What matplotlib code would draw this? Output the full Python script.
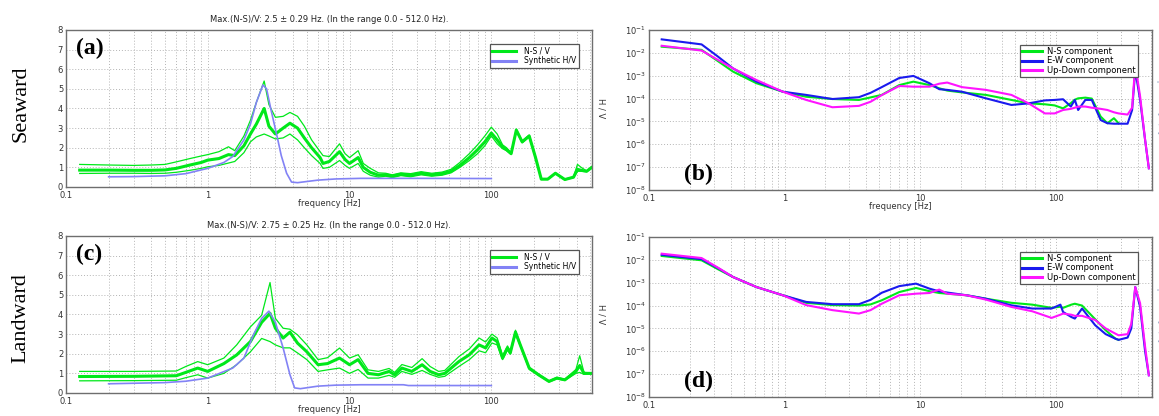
import numpy as np
import matplotlib
matplotlib.use('Agg')
import matplotlib.pyplot as plt
from matplotlib.ticker import LogLocator, NullFormatter, FixedLocator, FixedFormatter


# --- H/V curves, seaward site (a): mean and mean +/- 1 sd ---
freq_a  = [0.125, 0.2, 0.3, 0.4, 0.5, 0.6, 0.75, 0.9, 1.0, 1.2, 1.4, 1.55, 1.8, 2.0, 2.2, 2.5, 2.7,
           3.0, 3.4, 3.8, 4.3, 4.8, 5.4, 6.2, 6.5, 7.2, 8.5, 9.3, 10, 11.5, 12.5, 14, 16, 18, 20,
           23, 27, 32, 38, 45, 52, 60, 70, 80, 90, 100, 110, 120, 128, 138, 150, 165, 185, 205,
           225, 250, 283, 330, 380, 405, 430, 470, 512]
hv_a    = [0.86, 0.86, 0.85, 0.85, 0.87, 0.95, 1.12, 1.25, 1.37, 1.45, 1.65, 1.60, 2.1, 2.7, 3.2,
           4.0, 3.1, 2.7, 3.0, 3.25, 3.0, 2.5, 2.0, 1.5, 1.2, 1.3, 1.8, 1.4, 1.2, 1.5, 1.0, 0.75,
           0.6, 0.62, 0.55, 0.65, 0.6, 0.7, 0.62, 0.68, 0.8, 1.1, 1.5, 1.9, 2.3, 2.75, 2.4, 2.05,
           1.9, 1.7, 2.9, 2.3, 2.6, 1.5, 0.4, 0.4, 0.7, 0.38, 0.5, 0.9, 0.85, 0.8, 1.0]
hv_a_hi = [1.15, 1.12, 1.10, 1.12, 1.15, 1.28, 1.45, 1.58, 1.65, 1.80, 2.05, 1.85, 2.6, 3.4, 4.3,
           5.4, 4.2, 3.55, 3.6, 3.8, 3.6, 3.1, 2.4, 1.8, 1.6, 1.55, 2.2, 1.7, 1.5, 1.85, 1.2, 0.95,
           0.72, 0.7, 0.62, 0.72, 0.68, 0.78, 0.7, 0.76, 0.9, 1.25, 1.7, 2.15, 2.6, 3.05, 2.7, 2.15,
           2.0, 1.75, 2.95, 2.35, 2.65, 1.55, 0.42, 0.42, 0.72, 0.4, 0.52, 1.15, 1.0, 0.82, 1.02]
hv_a_lo = [0.69, 0.70, 0.70, 0.69, 0.70, 0.75, 0.85, 0.95, 1.03, 1.10, 1.22, 1.30, 1.75, 2.3, 2.55,
           2.7, 2.6, 2.45, 2.5, 2.7, 2.4, 2.0, 1.6, 1.2, 0.95, 1.0, 1.35, 1.1, 0.95, 1.2, 0.8, 0.6,
           0.5, 0.55, 0.48, 0.58, 0.52, 0.62, 0.55, 0.6, 0.72, 1.0, 1.35, 1.7, 2.1, 2.6, 2.2, 1.95,
           1.85, 1.65, 2.85, 2.25, 2.55, 1.45, 0.38, 0.38, 0.68, 0.36, 0.48, 0.8, 0.8, 0.78, 0.98]
syn_fa  = [0.2, 0.3, 0.5, 0.7, 1.0, 1.3, 1.5, 1.8, 2.0, 2.2, 2.45, 2.6, 2.8, 3.1, 3.3, 3.6, 3.9,
           4.3, 5, 6, 8, 12, 30, 100]
syn_a   = [0.52, 0.53, 0.57, 0.68, 0.95, 1.25, 1.55, 2.4, 3.2, 4.3, 5.2, 5.0, 3.9, 2.5, 1.6, 0.7,
           0.25, 0.22, 0.28, 0.35, 0.41, 0.44, 0.44, 0.43]

# --- H/V curves, landward site (c) ---
freq_c  = [0.125, 0.3, 0.6, 0.7, 0.85, 1.0, 1.3, 1.6, 2.0, 2.4, 2.75, 3.0, 3.4, 3.8, 4.3, 5.0,
           6.0, 7.0, 8.5, 10, 11.5, 13.5, 16, 19, 20.8, 23.4, 27.5, 32.5, 37, 42.5, 47, 59, 70,
           82, 91, 101, 110, 120, 130, 136, 148, 160, 185, 215, 255, 290, 330, 395, 420, 450, 512]
hv_c    = [0.84, 0.85, 0.88, 1.05, 1.27, 1.1, 1.5, 1.94, 2.62, 3.6, 4.06, 3.3, 2.8, 3.1, 2.54, 2.1,
           1.44, 1.5, 1.78, 1.44, 1.7, 1.0, 0.93, 1.1, 0.93, 1.27, 1.1, 1.44, 1.1, 0.93, 1.0, 1.6,
           1.95, 2.45, 2.3, 2.8, 2.62, 1.78, 2.3, 2.04, 3.1, 2.45, 1.27, 0.93, 0.59, 0.76, 0.67,
           1.1, 1.4, 1.0, 1.0]
hv_c_hi = [1.1, 1.1, 1.12, 1.35, 1.6, 1.44, 1.78, 2.45, 3.37, 3.96, 5.63, 3.8, 3.3, 3.25, 2.96,
           2.45, 1.7, 1.8, 2.29, 1.78, 1.95, 1.18, 1.1, 1.25, 1.05, 1.45, 1.3, 1.75, 1.35, 1.1,
           1.15, 1.85, 2.25, 2.8, 2.6, 3.0, 2.8, 1.9, 2.4, 2.1, 3.2, 2.5, 1.3, 0.96, 0.62, 0.8,
           0.7, 1.2, 1.9, 1.05, 1.02]
hv_c_lo = [0.62, 0.63, 0.65, 0.78, 0.93, 0.76, 1.0, 1.44, 2.1, 2.78, 2.62, 2.45, 2.3, 2.3, 2.04,
           1.7, 1.1, 1.18, 1.27, 1.0, 1.2, 0.76, 0.76, 0.9, 0.8, 1.1, 0.95, 1.15, 0.95, 0.8, 0.85,
           1.35, 1.7, 2.15, 2.05, 2.55, 2.45, 1.7, 2.2, 1.98, 3.0, 2.4, 1.2, 0.9, 0.56, 0.72, 0.64,
           1.0, 1.05, 0.95, 0.98]
syn_fc  = [0.2, 0.5, 0.7, 1.0, 1.5, 1.8, 2.1, 2.4, 2.7, 3.0, 3.4, 3.8, 4.1, 4.5, 6, 8, 12, 24,
           26, 100]
syn_c   = [0.47, 0.53, 0.6, 0.76, 1.27, 1.78, 2.96, 3.8, 4.17, 3.6, 2.3, 0.93, 0.26, 0.22, 0.35,
           0.4, 0.42, 0.42, 0.38, 0.38]

# --- component spectra (log10 amplitude), seaward (b) ---
freq_b = [0.124, 0.244, 0.32, 0.416, 0.62, 0.97, 1.44, 2.25, 3.53, 4.3, 5.2, 7.0, 8.9, 11.7,
          13.8, 15.8, 20.3, 30.5, 47, 63, 83, 98, 113, 129, 138, 146, 165, 184, 214, 240, 268,
          290, 338, 365, 385, 418, 455, 485]
ns_b = [-1.73, -1.87, -2.35, -2.82, -3.33, -3.70, -3.92, -4.02, -4.06, -3.95, -3.84, -3.41, -3.26,
        -3.41, -3.55, -3.65, -3.73, -3.84, -4.06, -4.21, -4.25, -4.30, -4.43, -4.20, -4.05, -3.99,
        -3.96, -4.00, -4.79, -5.08, -4.86, -5.08, np.nan, np.nan, np.nan, np.nan, np.nan, np.nan]
ew_b = [-1.41, -1.63, -2.15, -2.68, -3.26, -3.70, -3.84, -4.02, -3.94, -3.75, -3.50, -3.10, -3.01,
        -3.33, -3.59, -3.62, -3.70, -3.99, -4.28, -4.21, -4.08, -4.06, -4.03, -4.35, -4.06, -4.50,
        -4.06, -4.06, -4.94, -5.08, -5.10, -5.10, -5.10, -4.50, -2.75, -4.06, -5.81, -7.05]
ud_b = [-1.69, -1.90, -2.30, -2.68, -3.19, -3.70, -4.06, -4.38, -4.32, -4.14, -3.85, -3.45, -3.48,
        -3.48, -3.35, -3.30, -3.50, -3.62, -3.84, -4.21, -4.65, -4.65, -4.50, -4.45, -4.40, -4.35,
        -4.35, -4.40, -4.45, -4.50, -4.60, -4.65, -4.70, -4.40, -2.53, -3.90, -5.80, -7.05]

# --- component spectra (log10 amplitude), landward (d) ---
freq_d = [0.124, 0.244, 0.32, 0.416, 0.62, 0.97, 1.44, 2.25, 3.53, 4.3, 5.2, 7.0, 9.3, 11.7,
          13.8, 15.8, 22, 30.5, 47, 67, 93, 108, 113, 130, 138, 156, 195, 233, 275, 290, 338, 360,
          385, 418, 455, 485]
ns_d = [-1.83, -2.02, -2.40, -2.75, -3.19, -3.55, -3.88, -3.98, -4.00, -3.95, -3.77, -3.41, -3.23,
        -3.37, -3.45, -3.48, -3.55, -3.70, -3.88, -3.96, -4.10, -4.05, -4.10, -3.96, -3.92, -4.00,
        -4.60, -5.08, -5.45, -5.50, np.nan, np.nan, np.nan, np.nan, np.nan, np.nan]
ew_d = [-1.78, -1.97, -2.35, -2.75, -3.19, -3.55, -3.84, -3.94, -3.94, -3.75, -3.44, -3.15, -3.04,
        -3.26, -3.38, -3.43, -3.55, -3.70, -3.99, -4.13, -4.13, -3.96, -4.28, -4.50, -4.57, -4.13,
        -4.86, -5.25, -5.45, -5.50, -5.40, -5.00, -3.19, -4.06, -6.00, -7.05]
ud_d = [-1.73, -1.92, -2.33, -2.75, -3.19, -3.55, -3.98, -4.20, -4.35, -4.20, -3.92, -3.55, -3.48,
        -3.45, -3.30, -3.48, -3.55, -3.74, -4.06, -4.25, -4.54, -4.40, -4.35, -4.40, -4.45, -4.45,
        -4.63, -5.00, -5.23, -5.30, -5.25, -4.80, -3.19, -3.90, -5.80, -7.05]

titles = ['Max.(N-S)/V: 2.5 \u00b1 0.29 Hz. (In the range 0.0 - 512.0 Hz).',
          'Max.(N-S)/V: 2.75 \u00b1 0.25 Hz. (In the range 0.0 - 512.0 Hz).']

GREEN = '#00e81a'
SYN = '#8282f5'
BLUE = '#1a1aee'
MAG = '#ff14ff'
GRIDC = '#b4b4b4'


def style_axis(ax):
    ax.set_xscale('log')
    ax.set_xlim(0.1, 512)
    ax.xaxis.set_major_locator(FixedLocator([0.1, 1, 10, 100]))
    ax.xaxis.set_major_formatter(FixedFormatter(['0.1', '1', '10', '100']))
    ax.xaxis.set_minor_locator(LogLocator(base=10, subs=np.arange(2, 10), numticks=20))
    ax.xaxis.set_minor_formatter(NullFormatter())
    ax.grid(True, which='both', axis='x', ls=(0, (1, 2)), lw=0.7, color=GRIDC)
    ax.grid(True, which='major', axis='y', ls=(0, (1, 2)), lw=0.7, color=GRIDC)
    ax.tick_params(which='both', length=0, labelsize=6, pad=2, colors='#333333')
    ax.tick_params(axis='x', pad=3)
    for s in ax.spines.values():
        s.set_color('#6e6e6e')
        s.set_linewidth(1.0)


def hv_panel(ax, f, m, hi, lo, fs, syn, title, tag):
    style_axis(ax)
    ax.plot(f, hi, color=GREEN, lw=0.9)
    ax.plot(f, lo, color=GREEN, lw=0.9)
    ax.plot(f, m, color=GREEN, lw=2.2, label='N-S / V')
    ax.plot(fs, syn, color=SYN, lw=1.2, label='Synthetic H/V')
    ax.set_ylim(0, 8)
    ax.set_yticks(range(9))
    ax.set_title(title, fontsize=6, pad=6, color='#222222')
    ax.set_xlabel('frequency [Hz]', fontsize=6, labelpad=-1, color='#333333')
    ax.yaxis.set_label_position('right')
    ax.set_ylabel('H / V', fontsize=6, rotation=270, labelpad=10, color='#333333')
    ax.text(0.02, 0.95, tag, transform=ax.transAxes, fontsize=17, fontweight='bold',
            family='Liberation Serif', va='top', ha='left')
    leg = ax.legend(loc='upper right', bbox_to_anchor=(0.982, 0.935), fontsize=5.5,
                    fancybox=False, framealpha=1, edgecolor='#555555', handlelength=3.2,
                    borderpad=0.3, labelspacing=0.15, handletextpad=1.0)
    leg.get_frame().set_linewidth(0.9)
    for ln in leg.get_lines():
        ln.set_linewidth(2.2)


def spec_panel(ax, f, ns, ew, ud, tag, xlabel):
    style_axis(ax)
    ax.set_yscale('log')
    ax.set_ylim(1e-8, 1e-1)
    ax.yaxis.set_major_locator(LogLocator(base=10, numticks=10))
    ax.yaxis.set_minor_locator(LogLocator(base=10, subs=[], numticks=10))
    ax.plot(f, 10 ** np.asarray(ns), color=GREEN, lw=1.5, label='N-S component')
    ax.plot(f, 10 ** np.asarray(ew), color=BLUE, lw=1.5, label='E-W component')
    ax.plot(f, 10 ** np.asarray(ud), color=MAG, lw=1.5, label='Up-Down component')
    if xlabel:
        ax.set_xlabel('frequency [Hz]', fontsize=6, labelpad=-1, color='#333333')
    ax.text(0.07, 0.03, tag, transform=ax.transAxes, fontsize=17, fontweight='bold',
            family='Liberation Serif', va='bottom', ha='left')
    leg = ax.legend(loc='upper right', bbox_to_anchor=(0.98, 0.935), fontsize=6,
                    fancybox=False, framealpha=1, edgecolor='#555555', handlelength=2.4,
                    borderpad=0.25, labelspacing=0.1, handletextpad=0.6)
    leg.get_frame().set_linewidth(0.9)
    for ln in leg.get_lines():
        ln.set_linewidth(2.2)


fig = plt.figure(figsize=(11.59, 4.16), dpi=100)
ax_a = fig.add_axes([0.0569, 0.5505, 0.4538, 0.3774])
ax_b = fig.add_axes([0.5600, 0.5433, 0.4340, 0.3846])
ax_c = fig.add_axes([0.0569, 0.0553, 0.4538, 0.3774])
ax_d = fig.add_axes([0.5600, 0.0457, 0.4340, 0.3846])

hv_panel(ax_a, freq_a, hv_a, hv_a_hi, hv_a_lo, syn_fa, syn_a, titles[0], '(a)')
hv_panel(ax_c, freq_c, hv_c, hv_c_hi, hv_c_lo, syn_fc, syn_c, titles[1], '(c)')
spec_panel(ax_b, freq_b, ns_b, ew_b, ud_b, '(b)', True)
spec_panel(ax_d, freq_d, ns_d, ew_d, ud_d, '(d)', False)

# row labels
fig.text(0.018, 0.75, 'Seaward', rotation=90, fontsize=16, family='Liberation Serif',
         ha='center', va='center')
fig.text(0.018, 0.235, 'Landward', rotation=90, fontsize=16, family='Liberation Serif',
         ha='center', va='center')

# faint unit labels on the right of the spectra, partly beyond the figure edge
for y in (0.76, 0.26):
    fig.text(0.997, y, 'Amplitude [m/s]', rotation=270, fontsize=6, color='#8fa0c0',
             ha='left', va='center')

fig.savefig('out.png', dpi=100)
